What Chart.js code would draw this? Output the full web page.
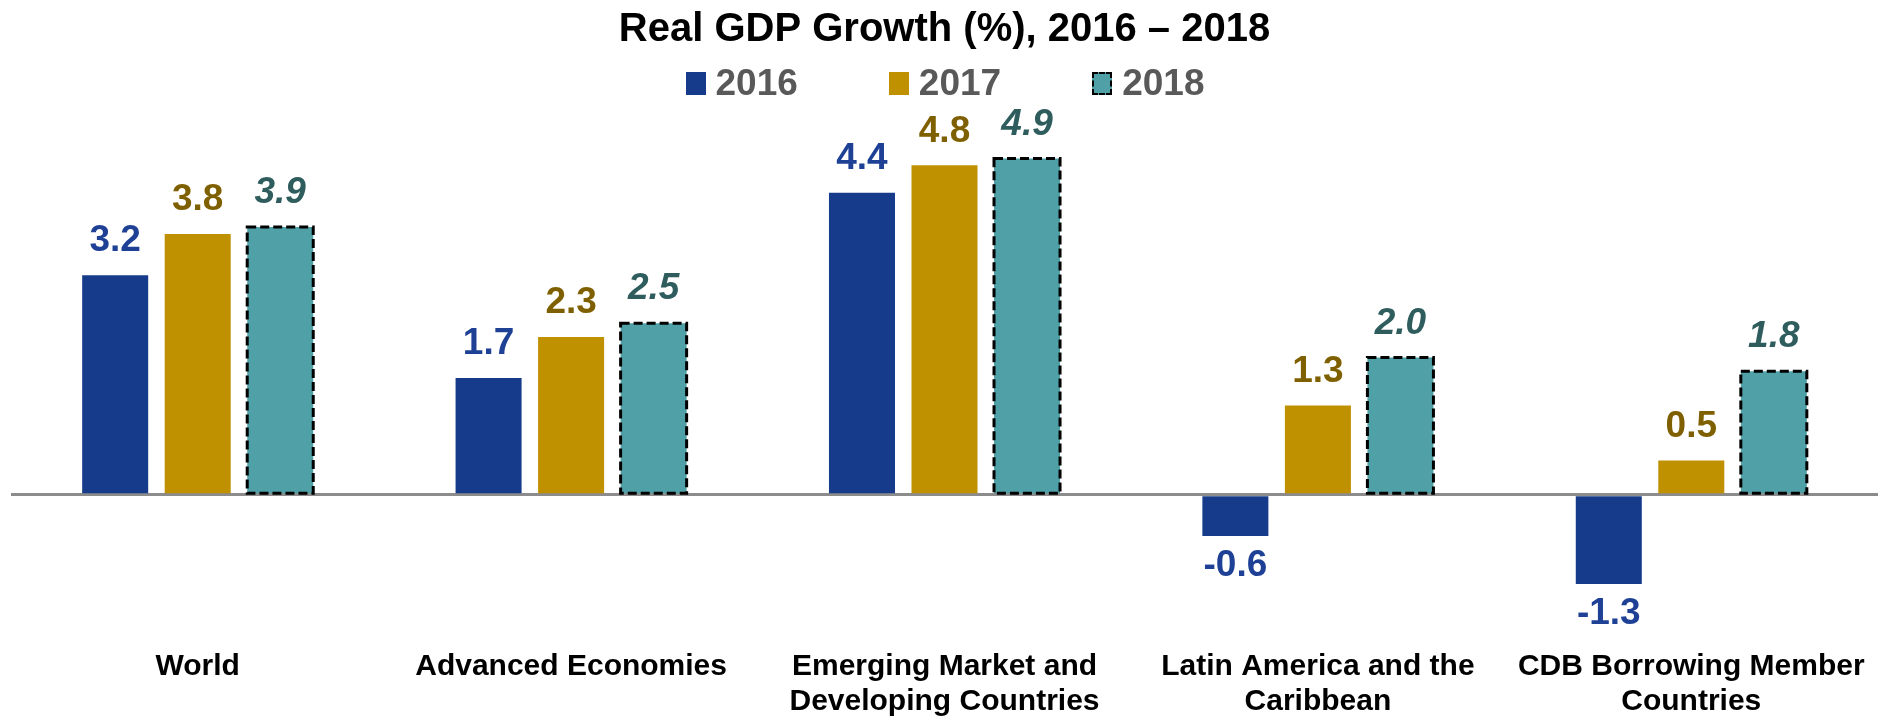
<!DOCTYPE html>
<html>
<head>
<meta charset="utf-8">
<script src="https://cdn.jsdelivr.net/npm/chart.js@4.4.1/dist/chart.umd.min.js"></script>
<style>
  body { margin: 0; background: #fff; }
  #wrap { position: relative; width: 1890px; height: 722px; }
  #legend {
    position: absolute; top: 62px; left: 0; width: 1890px;
    display: flex; justify-content: center; gap: 91px;
    font-family: "Liberation Sans", Arial, sans-serif;
    font-weight: bold; font-size: 37px; color: #595959;
  }
  #legend .item { display: flex; align-items: center; }
  #legend .box { width: 20px; height: 23px; margin-right: 10px; box-sizing: border-box; }
</style>
</head>
<body>
<div id="wrap">
  <canvas id="myChart"></canvas>
  <div id="legend"></div>
</div>
<script>
// Real GDP growth by region, 2016-2018

const regions = [
  ["World"],
  ["Advanced Economies"],
  ["Emerging Market and", "Developing Countries"],
  ["Latin America and the", "Caribbean"],
  ["CDB Borrowing Member", "Countries"]
];
const years = ["2016", "2017", "2018"];
const growth2016 = [3.2, 1.7, 4.4, -0.6, -1.3];
const growth2017 = [3.8, 2.3, 4.8, 1.3, 0.5];
const growth2018 = [3.9, 2.5, 4.9, 2.0, 1.8];

const barColors = ["#153B8A", "#BF9000", "#4FA1A7"];
const labelColors = ["#1E4196", "#7F6000", "#2F5D5E"];

const FONT = '"Liberation Sans", Arial, sans-serif';
Chart.defaults.font.family = FONT;

// value labels above / below each bar
const valueLabels = {
  id: "valueLabels",
  afterDatasetsDraw(chart) {
    const ctx = chart.ctx;
    ctx.save();
    ctx.textAlign = "center";
    ctx.textBaseline = "middle";
    chart.data.datasets.forEach((ds, i) => {
      const meta = chart.getDatasetMeta(i);
      ctx.fillStyle = labelColors[i];
      ctx.font = (i === 2 ? "italic " : "") + "bold 37px " + FONT;
      meta.data.forEach((bar, j) => {
        const v = ds.data[j];
        const y = v >= 0 ? bar.y - 34 : bar.y + 30;
        ctx.fillText(v.toFixed(1), bar.x, y);
      });
    });
    ctx.restore();
  }
};

// dashed outline for the 2018 bars (bar borders can't be dashed natively)
const dashedBars = {
  id: "dashedBars",
  afterDatasetsDraw(chart) {
    const ctx = chart.ctx;
    chart.data.datasets.forEach((ds, i) => {
      if (!ds.outlineDash) return;
      const meta = chart.getDatasetMeta(i);
      ctx.save();
      ctx.strokeStyle = "#000";
      ctx.lineWidth = 3;
      ctx.setLineDash(ds.outlineDash);
      meta.data.forEach(bar => {
        const top = Math.min(bar.y, bar.base);
        const h = Math.abs(bar.base - bar.y);
        ctx.strokeRect(bar.x - bar.width / 2, top, bar.width, h);
      });
      ctx.restore();
    });
  }
};

const series = [growth2016, growth2017, growth2018];

new Chart(document.getElementById("myChart"), {
  type: "bar",
  data: {
    labels: regions,
    datasets: series.map((vals, i) => ({
      label: years[i],
      data: vals,
      backgroundColor: barColors[i],
      categoryPercentage: 0.663,
      barPercentage: 0.8,
      outlineDash: i === 2 ? [9, 4] : null
    }))
  },
  options: {
    responsive: true,
    maintainAspectRatio: false,
    animation: false,
    layout: { padding: { left: 11, right: 12, top: 0, bottom: 0 } },
    plugins: {
      legend: { display: false },
      tooltip: { enabled: false },
      title: {
        display: true,
        text: "Real GDP Growth (%), 2016 \u2013 2018",
        color: "#000",
        font: { size: 40, weight: "bold", lineHeight: 1.2 },
        padding: { top: 6, bottom: 77 }
      }
    },
    scales: {
      x: {
        grid: { display: false, drawTicks: false },
        border: { display: false },
        ticks: {
          color: "#000",
          font: { size: 30, weight: "bold", lineHeight: 1.17 },
          padding: 3,
          maxRotation: 0,
          autoSkip: false
        }
      },
      y: {
        min: -2.2,
        max: 5.3,
        border: { display: false },
        grid: {
          drawTicks: false,
          lineWidth: 3,
          color: c => (c.tick && c.tick.value === 0 ? "#8C8C8C" : "rgba(0,0,0,0)")
        },
        ticks: { display: false, stepSize: 1 }
      }
    }
  },
  plugins: [dashedBars, valueLabels]
});

// legend row under the title
const legend = document.getElementById("legend");
years.forEach((y, i) => {
  const item = document.createElement("div");
  item.className = "item";
  const box = document.createElement("span");
  box.className = "box";
  box.style.background = barColors[i];
  if (i === 2) box.style.border = "2px dashed #000";
  const txt = document.createElement("span");
  txt.textContent = y;
  item.appendChild(box);
  item.appendChild(txt);
  legend.appendChild(item);
});
</script>
</body>
</html>
